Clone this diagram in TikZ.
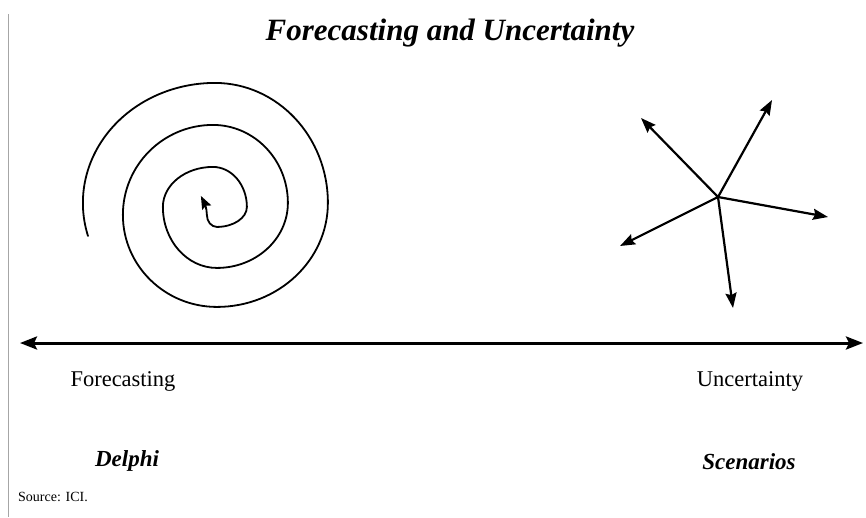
\documentclass[tikz,border=0pt]{standalone}
\usepackage{fontspec}
\setmainfont{Liberation Serif}
\usetikzlibrary{arrows.meta}
\tikzset{
  spiralline/.style={line width=1.8pt, line cap=round},
  ray/.style={line width=2.2pt, -{Stealth[length=15pt,width=11pt,inset=2pt]}},
  axisline/.style={line width=3pt, {Stealth[length=17pt,width=13pt,inset=3pt]}-{Stealth[length=17pt,width=13pt,inset=3pt]}},
  lab/.style={font=\fontsize{22.5}{26}\selectfont, inner sep=0pt},
  blab/.style={font=\fontsize{23}{26}\selectfont\bfseries\itshape, inner sep=0pt},
}
\begin{document}
\begin{tikzpicture}[x=1pt,y=-1pt]
\useasboundingbox (0,0) rectangle (866,517);
\fill[white] (0,0) rectangle (866,517);
% left margin rule
\draw[gray!70, line width=1pt] (8,14) -- (8,517);
% title
\node[font=\fontsize{31}{35}\selectfont\bfseries\itshape, inner sep=0pt] (title) at (450,33) {Forecasting and Uncertainty};
% spiral (quarter ellipses joined at their extreme points)
\coordinate (sp0) at (88,236);
\draw[spiralline, -{Stealth[length=13pt,width=10pt,inset=2pt]}] (sp0)
  arc[start angle=164, end angle=270, x radius=132, y radius=120]
  arc[start angle=270, end angle=360, x radius=113, y radius=120]
  arc[start angle=0,   end angle=90,  x radius=111, y radius=104]
  arc[start angle=90,  end angle=180, x radius=94,  y radius=92]
  arc[start angle=180, end angle=270, x radius=90,  y radius=90]
  arc[start angle=270, end angle=360, x radius=75,  y radius=78]
  arc[start angle=0,   end angle=90,  x radius=71,  y radius=65]
  arc[start angle=90,  end angle=180, x radius=54,  y radius=61]
  arc[start angle=180, end angle=270, x radius=50,  y radius=40]
  arc[start angle=270, end angle=360, x radius=34,  y radius=40]
  arc[start angle=0,   end angle=90,  x radius=30,  y radius=20]
  arc[start angle=90,  end angle=180, x radius=10,  y radius=12]
  .. controls +(0,-7) and +(3,6) .. ++(-6,-19);
% star
\coordinate (c) at (718,197);
\coordinate (ul) at (641,118);
\coordinate (ur) at (772,100);
\coordinate (r) at (828,217);
\coordinate (dl) at (620,246);
\coordinate (d) at (733,308);
\foreach \t in {ul,ur,r,dl,d} \draw[ray] (c) -- (\t);
% axis
\coordinate (axl) at (20,343);
\coordinate (axr) at (863,343);
\draw[axisline] (axl) -- (axr);
% labels
\node[lab] (fc) at (123,381) {Forecasting};
\node[lab] (un) at (750,381) {Uncertainty};
\node[blab] (de) at (127,461) {Delphi};
\node[blab] (sc) at (749,462) {Scenarios};
\node[font=\fontsize{14}{16}\selectfont, inner sep=0pt, anchor=west] (src) at (18,497) {Source: ICI.};
\end{tikzpicture}
\end{document}
